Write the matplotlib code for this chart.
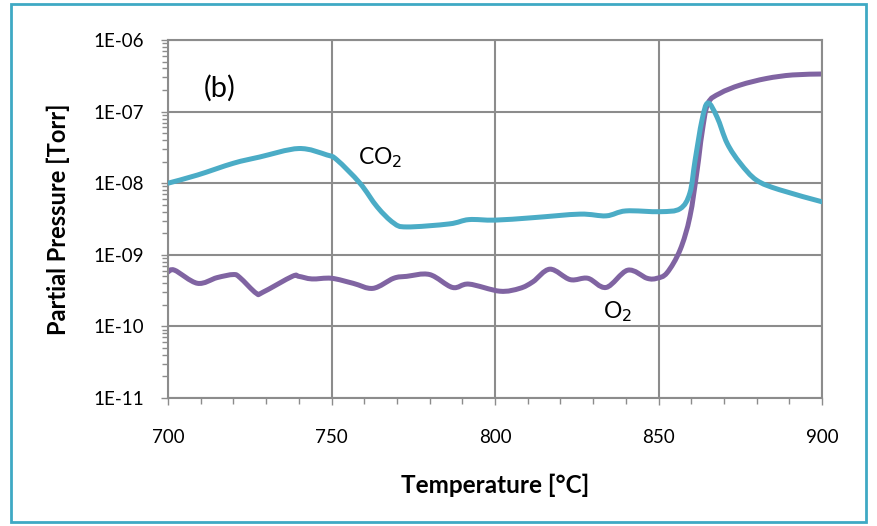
import matplotlib
matplotlib.use("Agg")
import numpy as np
import matplotlib.pyplot as plt
from matplotlib.patches import Rectangle, PathPatch
from matplotlib.path import Path
from matplotlib.ticker import LogLocator, NullFormatter, FixedLocator, MultipleLocator

# CO2 data
co2_T = [700, 709, 720, 728, 740, 748.6, 751.7, 758.7, 764, 769, 773,
         786, 792, 800, 811.6, 826, 834, 840, 850.5, 856.6, 859.6, 861.2,
         863.3, 865.1, 867.9, 871, 875, 880, 887, 900]
co2_P = [1.0e-8, 1.3e-8, 1.9e-8, 2.32e-8, 3.05e-8, 2.48e-8, 2.11e-8,
         1.0e-8, 4.65e-9, 2.78e-9, 2.45e-9, 2.7e-9, 3.1e-9, 3.05e-9, 3.3e-9,
         3.7e-9, 3.5e-9, 4.1e-9, 4.0e-9, 4.4e-9, 7.3e-9, 2.1e-8, 7.6e-8,
         1.32e-7, 8.4e-8, 3.6e-8, 1.9e-8, 1.1e-8, 8.1e-9, 5.5e-9]

# O2 data
o2_T = [700, 702, 709, 715, 720, 722, 727, 729, 738, 740, 744, 750, 756.6,
        762.7, 769, 773, 780, 787, 792, 801.5, 807.6, 811.6, 816.8, 823,
        828.4, 834, 840.6, 846.5, 849.5, 852.6, 856.6, 859.6, 861.8, 863.3,
        865.1, 868.8, 875, 883, 891, 900]
o2_P = [5.75e-10, 6.1e-10, 4.0e-10, 4.8e-10, 5.3e-10, 4.8e-10, 2.9e-10,
        3.0e-10, 5.0e-10, 5.0e-10, 4.6e-10, 4.7e-10, 4.0e-10, 3.4e-10,
        4.7e-10, 5.0e-10, 5.3e-10, 3.5e-10, 3.9e-10, 3.1e-10, 3.4e-10,
        4.2e-10, 6.3e-10, 4.5e-10, 4.7e-10, 3.5e-10, 6.1e-10, 4.7e-10,
        4.7e-10, 5.6e-10, 1.17e-9, 3.4e-9, 1.5e-8, 5.0e-8, 1.3e-7, 1.8e-7,
        2.35e-7, 2.9e-7, 3.25e-7, 3.35e-7]

x_ticks = [700, 750, 800, 850, 900]
y_ticks = [1e-11, 1e-10, 1e-9, 1e-8, 1e-7, 1e-6]
y_labels = ["1E-11", "1E-10", "1E-09", "1E-08", "1E-07", "1E-06"]


def smooth_path(xs, ys):
    """Smoothed (Excel-style) line through the points as cubic Bezier
    segments, built in (x, log10 y) space for a log y axis."""
    x = np.asarray(xs, float)
    y = np.log10(np.asarray(ys, float))
    n = len(x)
    verts = [(x[0], y[0])]
    codes = [Path.MOVETO]
    for i in range(n - 1):
        x0, y0 = (x[i - 1], y[i - 1]) if i > 0 else (x[i], y[i])
        x3, y3 = (x[i + 2], y[i + 2]) if i + 2 < n else (x[i + 1], y[i + 1])
        c1 = (x[i] + (x[i + 1] - x0) / 6, y[i] + (y[i + 1] - y0) / 6)
        c2 = (x[i + 1] - (x3 - x[i]) / 6, y[i + 1] - (y3 - y[i]) / 6)
        verts += [c1, c2, (x[i + 1], y[i + 1])]
        codes += [Path.CURVE4] * 3
    verts = [(vx, 10 ** vy) for vx, vy in verts]
    return Path(verts, codes)


plt.rcParams['font.family'] = ['Lato', 'DejaVu Sans']

fig = plt.figure(figsize=(8.77, 5.26), dpi=100)
ax = fig.add_axes([168/877, 1-398/526, (822-168)/877, (398-40)/526])

grid_c = '#8c8c8c'
ax.set_yscale('log')
ax.set_xlim(700, 900)
ax.set_ylim(1e-11, 1e-6)
ax.set_xticks(x_ticks)
ax.set_xticklabels([str(t) for t in x_ticks], fontsize=13.5)
ax.yaxis.set_major_locator(FixedLocator(y_ticks))
ax.set_yticklabels(y_labels, fontsize=13.5)
ax.yaxis.set_minor_locator(LogLocator(base=10, subs=range(2, 10)))
ax.yaxis.set_minor_formatter(NullFormatter())
ax.xaxis.set_minor_locator(MultipleLocator(10))
ax.grid(True, which='major', color=grid_c, linewidth=1.5)
ax.set_axisbelow(True)
for s in ax.spines.values():
    s.set_color(grid_c)
    s.set_linewidth(1.5)
ax.tick_params(axis='both', which='both', color=grid_c, direction='out')
ax.tick_params(axis='both', which='major', length=5, width=1)
ax.tick_params(axis='both', which='minor', length=4, width=1)
ax.tick_params(axis='y', which='major', pad=12)
ax.tick_params(axis='x', which='major', pad=17)

for xs, ys, col, z in [(co2_T, co2_P, '#4bacc6', 3), (o2_T, o2_P, '#8064a2', 2)]:
    patch = PathPatch(smooth_path(xs, ys), facecolor='none', edgecolor=col,
                      linewidth=3.6, capstyle='round', joinstyle='round',
                      transform=ax.transData, zorder=z)
    ax.add_patch(patch)

ax.text(0.0795, 0.866, "(b)", transform=ax.transAxes, fontsize=21,
        va='center', ha='center')
ax.text(758, 2.25e-8, "CO$_2$", fontsize=16.5, va='center', ha='left')
ax.text(833, 1.6e-10, "O$_2$", fontsize=16.5, va='center', ha='left')

ax.set_xlabel("Temperature [°C]", fontsize=17.5, fontweight='bold')
ax.set_ylabel("Partial Pressure [Torr]", fontsize=17, fontweight='bold')
ax.xaxis.set_label_coords(0.5, -0.212)
ax.yaxis.set_label_coords(-0.15, 0.5)

fig.patches.append(Rectangle((11/877, 1-522/526), (866-11)/877, (522-4)/526,
                             transform=fig.transFigure, fill=False,
                             edgecolor='#3fa9c4', linewidth=2))

fig.savefig("out.png", dpi=100)
